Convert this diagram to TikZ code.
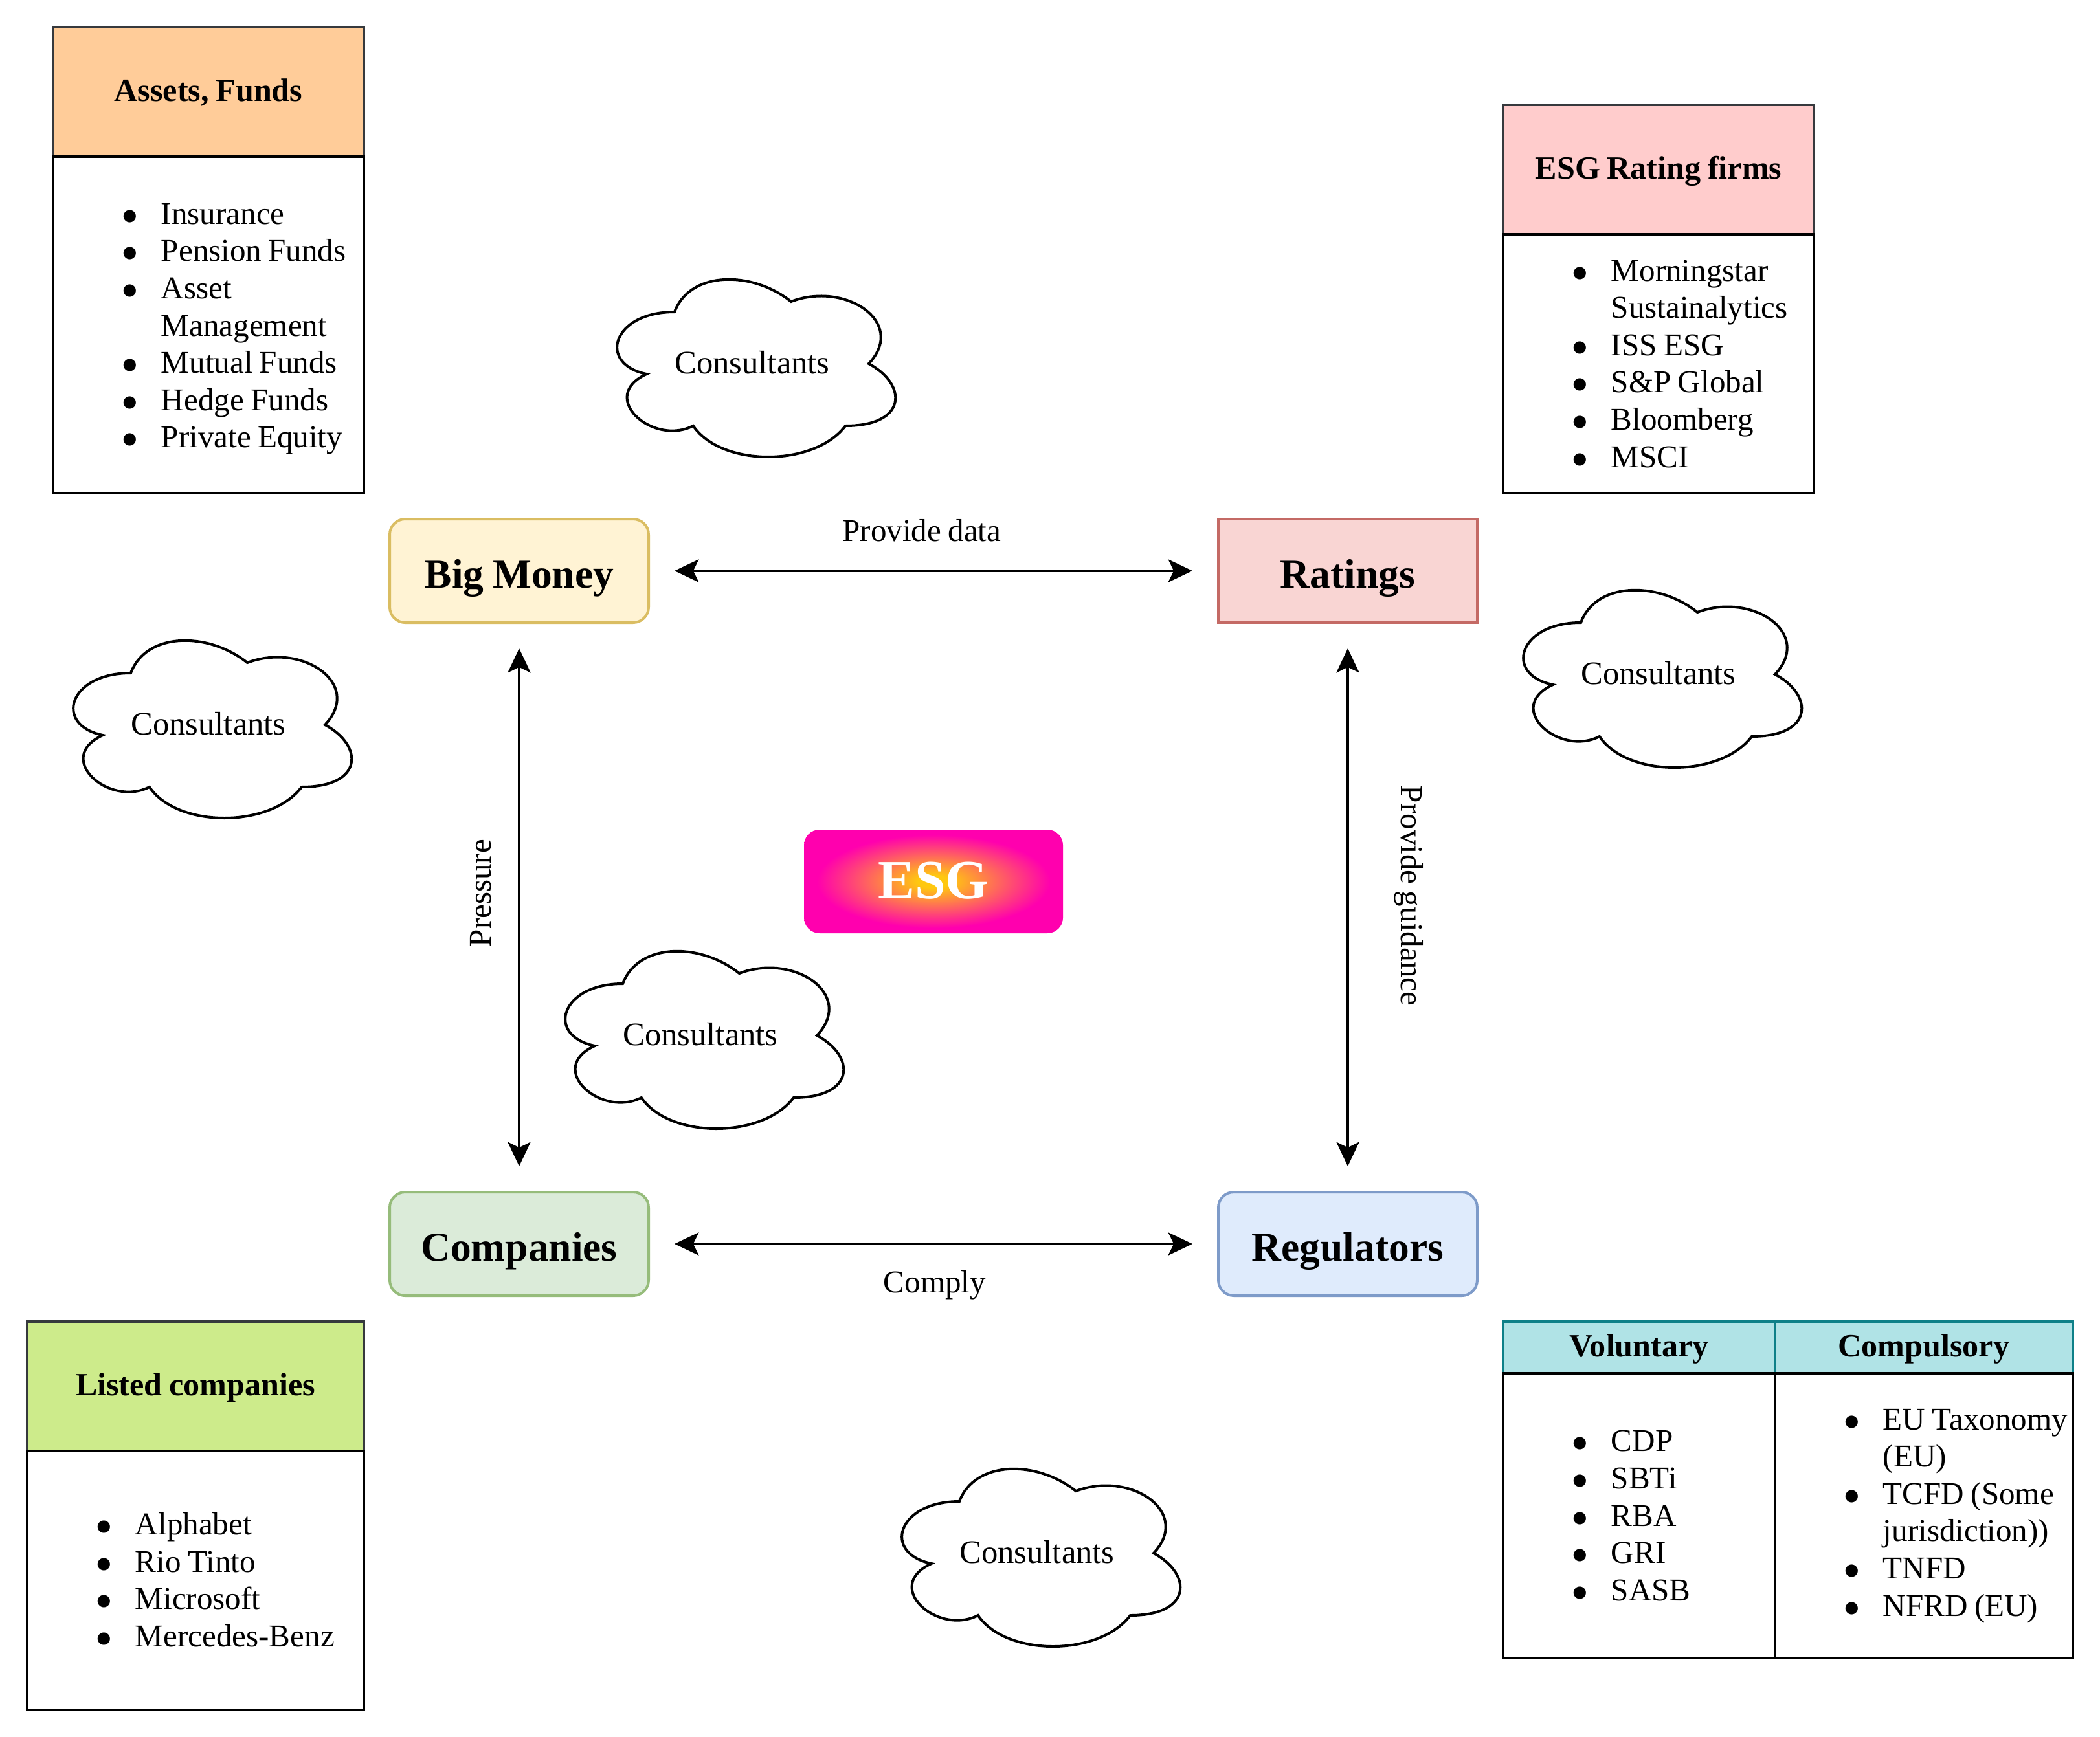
\documentclass[tikz,border=0pt]{standalone}
\usepackage{fontspec}
\setmainfont[WordSpace=0.85]{Liberation Serif}
\usetikzlibrary{arrows.meta}

\definecolor{orangefill}{HTML}{FFCC99}
\definecolor{pinkfill}{HTML}{FFCCCC}
\definecolor{limefill}{HTML}{CDEB8B}
\definecolor{tealfill}{HTML}{B0E3E6}
\definecolor{tealline}{HTML}{0E8088}
\definecolor{greyline}{HTML}{36393D}
\definecolor{moneyfill}{HTML}{FFF3D4}
\definecolor{moneyline}{HTML}{DABD62}
\definecolor{ratingfill}{HTML}{F9D5D3}
\definecolor{ratingline}{HTML}{C46A65}
\definecolor{companyfill}{HTML}{DBEBD9}
\definecolor{companyline}{HTML}{96BC7B}
\definecolor{regulatorfill}{HTML}{DFEBFC}
\definecolor{regulatorline}{HTML}{7E9BC9}
\definecolor{esgin}{HTML}{FFC80F}
\definecolor{esgout}{HTML}{FF00AE}

\pgfdeclareradialshading{esgglow}{\pgfpoint{0bp}{0bp}}{color(0bp)=(esgin); color(3bp)=(esgin); color(22.5bp)=(esgout); color(50bp)=(esgout)}

\newcommand{\itemlist}[2][4.7pt]{%
    \fontsize{9.2}{10.8}\selectfont\raggedright\spaceskip=0.21em
    \begin{list}{$\bullet$}{\setlength{\leftmargin}{31.3pt}\setlength{\labelsep}{6.7pt}%
        \setlength{\labelwidth}{23pt}\setlength{\rightmargin}{0pt}\setlength{\itemsep}{0pt}%
        \setlength{\parsep}{0pt}\setlength{\topsep}{0pt}\setlength{\partopsep}{0pt}}
    #2
    \end{list}\par\nointerlineskip\vbox to #1{}}

\begin{document}
\begin{tikzpicture}[
    x=0.75pt,y=-0.75pt,
    line width=0.75pt,
    font=\fontsize{9.2}{10.8}\selectfont,
    actor/.style={
        draw,
        minimum width=75pt,
        minimum height=30pt,
        inner sep=0pt,
        outer sep=0pt,
        text height=10pt,
        text depth=0pt,
        font=\fontsize{11.9}{14}\selectfont\bfseries,
    },
    softactor/.style={actor,rounded corners=4.5pt},
    headbox/.style={
        draw=greyline,
        anchor=north west,
        inner sep=0pt,
        outer sep=0pt,
        text height=5.5pt,
        text depth=0pt,
        font=\fontsize{9.4}{11}\selectfont\bfseries,
    },
    listbox/.style={
        draw=black,
        anchor=north west,
        inner sep=0pt,
        outer sep=0pt,
    },
    biarrow/.style={
        {Stealth[length=7pt,width=6.6pt,inset=1.6pt]}-{Stealth[length=7pt,width=6.6pt,inset=1.6pt]},
        shorten >=7.5pt,
        shorten <=7.5pt,
    },
    advisor/.pic={
        \draw (-30,-20) .. controls (-54,-20) and (-60,0) .. (-40.8,4)
            .. controls (-60,12.8) and (-38.4,32) .. (-22.8,24)
            .. controls (-12,40) and (24,40) .. (36,24)
            .. controls (60,24) and (60,8) .. (45,0)
            .. controls (60,-16) and (36,-32) .. (15,-24)
            .. controls (0,-36) and (-24,-36) .. (-30,-20) -- cycle;
        \node[font=\fontsize{9.5}{11}\selectfont] (-text) at (0,-0.5) {Consultants};
    },
]

\useasboundingbox (0,0) rectangle (811,671);

%the four actors
\node[softactor,fill=moneyfill,draw=moneyline] (money) at (200.5,220.5) {Big Money};
\node[actor,fill=ratingfill,draw=ratingline] (ratings) at (520.5,220.5) {Ratings};
\node[softactor,fill=companyfill,draw=companyline] (companies) at (200.5,480.5) {Companies};
\node[softactor,fill=regulatorfill,draw=regulatorline] (regulators) at (520.5,480.5) {Regulators};

\node[rounded corners=4.5pt,minimum width=75pt,minimum height=30pt,inner sep=0pt,shading=esgglow,
    text height=9.8pt,text depth=0pt,
    text=white,font=\fontsize{16}{18}\selectfont\bfseries] (esg) at (360.5,340.5) {ESG};

\draw[biarrow] (money) -- (ratings);
\draw[biarrow] (companies) -- (regulators);
\draw[biarrow] (money) -- (companies);
\draw[biarrow] (ratings) -- (regulators);

\node (datalabel) at (356,205) {Provide data};
\node (complylabel) at (361,496.5) {Comply};
\node[rotate=90] (pressurelabel) at (185.6,345) {Pressure};
\node[rotate=-90] (guidancelabel) at (544,346) {Provide guidance};

%the tables
\node[headbox,fill=orangefill,minimum width=90pt,minimum height=37.5pt] (assets) at (20.5,10.5) {Assets, Funds};
\node[listbox,text width=90pt,minimum height=97.5pt] (assetslist) at (assets.south west) {\itemlist[2.4pt]{
    \item Insurance
    \item Pension Funds
    \item Asset Management
    \item Mutual Funds
    \item Hedge Funds
    \item Private Equity}};

\node[headbox,fill=pinkfill,minimum width=90pt,minimum height=37.5pt] (firms) at (580.5,40.5) {ESG Rating firms};
\node[listbox,text width=90pt,minimum height=75pt] (firmslist) at (firms.south west) {\itemlist{
    \item Morningstar Sustainalytics
    \item ISS ESG
    \item S\&P Global
    \item Bloomberg
    \item MSCI}};

\node[headbox,fill=limefill,minimum width=97.5pt,minimum height=37.5pt] (listed) at (10.5,510.5) {Listed companies};
\node[listbox,text width=97.5pt,minimum height=75pt] (listedlist) at (listed.south west) {\itemlist{
    \item Alphabet
    \item Rio Tinto
    \item Microsoft
    \item Mercedes-Benz}};

\node[headbox,draw=tealline,fill=tealfill,minimum width=78.75pt,minimum height=15pt] (voluntary) at (580.5,510.5) {Voluntary};
\node[headbox,draw=tealline,fill=tealfill,minimum width=86.2pt,minimum height=15pt] (compulsory) at (voluntary.north east) {Compulsory};
\node[listbox,text width=78.75pt,minimum height=82.5pt] (voluntarylist) at (voluntary.south west) {\itemlist{
    \item CDP
    \item SBTi
    \item RBA
    \item GRI
    \item SASB}};
\node[listbox,text width=86.2pt,minimum height=82.5pt] (compulsorylist) at (compulsory.south west) {\itemlist{
    \item EU Taxonomy (EU)
    \item TCFD (Some jurisdiction))
    \item TNFD
    \item NFRD (EU)}};

%the clouds
\pic (cloudA) at (290.5,140.5) {advisor};
\pic (cloudB) at (80.5,280) {advisor};
\pic (cloudC) at (640.5,260.5) {advisor};
\pic (cloudD) at (270.5,400) {advisor};
\pic (cloudE) at (400.5,600) {advisor};

\end{tikzpicture}
\end{document}
